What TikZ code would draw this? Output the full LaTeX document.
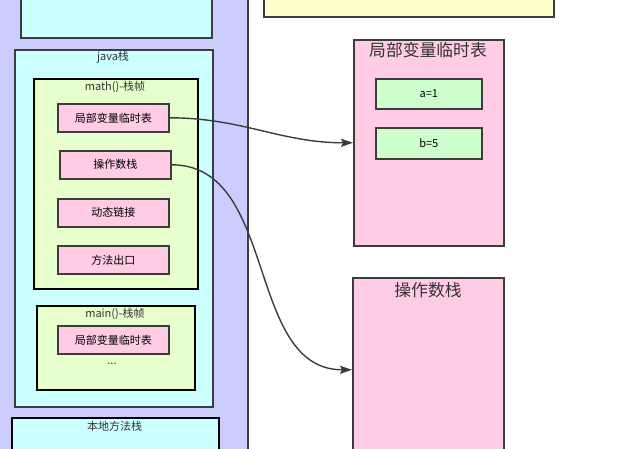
\documentclass[tikz,border=0pt]{standalone}
\usepackage{fontspec}
\setmainfont{Noto Sans CJK SC}
\usetikzlibrary{arrows.meta}
\definecolor{jvmpurple}{RGB}{204,204,255}
\definecolor{areacyan}{RGB}{204,255,255}
\definecolor{framegreen}{RGB}{230,255,204}
\definecolor{slotpink}{RGB}{255,204,230}
\definecolor{heapyellow}{RGB}{255,255,204}
\definecolor{valuegreen}{RGB}{204,255,204}
\definecolor{edgegray}{RGB}{60,60,60}
\newcommand{\widthslot}{111pt}
\newcommand{\heightslot}{28pt}
\newcommand{\smallfont}{\fontsize{11}{12}\selectfont}
\newcommand{\bigfont}{\fontsize{16.8}{18}\selectfont}
\tikzset{
    common/.style={anchor=north west, draw=edgegray, rectangle, inner sep=0pt, line width=1.6pt},
    area/.style={common, fill=areacyan},
    frame/.style={common, fill=framegreen, draw=black, line width=1.8pt},
    slot/.style={common, fill=slotpink, minimum width=\widthslot, minimum height=\heightslot, font=\smallfont},
    table/.style={common, fill=slotpink},
    value/.style={common, fill=valuegreen, minimum width=106pt, font=\smallfont},
    title/.style={anchor=center, inner sep=0pt, font=\smallfont, text=black!80},
    bigtitle/.style={title, font=\bigfont},
    link/.style={-{Stealth[length=12pt, width=8pt, inset=2pt]}, line width=1.4pt, draw=edgegray}
}
\begin{document}
\begin{tikzpicture}[x=1pt, y=-1pt]
    \useasboundingbox (0,0) rectangle (633,448);
    \clip (0,0) rectangle (633,448);

    \node[common, fill=jvmpurple, anchor=north east, minimum width=270pt, minimum height=480pt] (jvm) at (249,-15) {};
    \node[area, anchor=south west, minimum width=191pt, minimum height=60pt] (pcArea) at (20,39) {};
    \node[common, fill=heapyellow, anchor=south west, minimum width=290pt, minimum height=40pt] (heap) at (263,18) {};

    \node[area, minimum width=198pt, minimum height=357pt] (javaStack) at (14,49) {};
    \node[title] (javaStack-title) at (113,57) {java栈};

    \node[frame, minimum width=164pt, minimum height=210pt] (mathFrame) at (33,78) {};
    \node[title] (mathFrame-title) at (115,87) {math()-栈帧};
    \node[slot] (mathLocals) at (57,103) {局部变量临时表};
    \node[slot] (mathOperands) at (59,150) {操作数栈};
    \node[slot] (mathLink) at (57,198) {动态链接};
    \node[slot] (mathReturn) at (57,245) {方法出口};

    \node[frame, minimum width=158pt, minimum height=84pt] (mainFrame) at (36,305) {};
    \node[title] (mainFrame-title) at (115,314) {main()-栈帧};
    \node[slot] (mainLocals) at (57,325) {局部变量临时表};
    \node[title] (mainFrame-more) at (112,364) {...};

    \node[area, draw=black, minimum width=207pt, minimum height=60pt] (nativeStack) at (11,417) {};
    \node[title] (nativeStack-title) at (114.5,426) {本地方法栈};

    \node[table, minimum width=150pt, minimum height=206pt] (localsTable) at (353,39) {};
    \node[bigtitle] (localsTable-title) at (428,50) {局部变量临时表};
    \node[value, minimum height=30pt] (valueA) at (375,78) {a=1};
    \node[value, minimum height=31pt] (valueB) at (375,127) {b=5};

    \node[table, minimum width=151pt, minimum height=184pt] (operandTable) at (352,277) {};
    \node[bigtitle] (operandTable-title) at (428,290) {操作数栈};

    \draw[link] (mathLocals.east) to[out=0, in=180] (localsTable.west);
    \draw[link] (mathOperands.east) to[out=0, in=180] (operandTable.west);
\end{tikzpicture}
\end{document}
